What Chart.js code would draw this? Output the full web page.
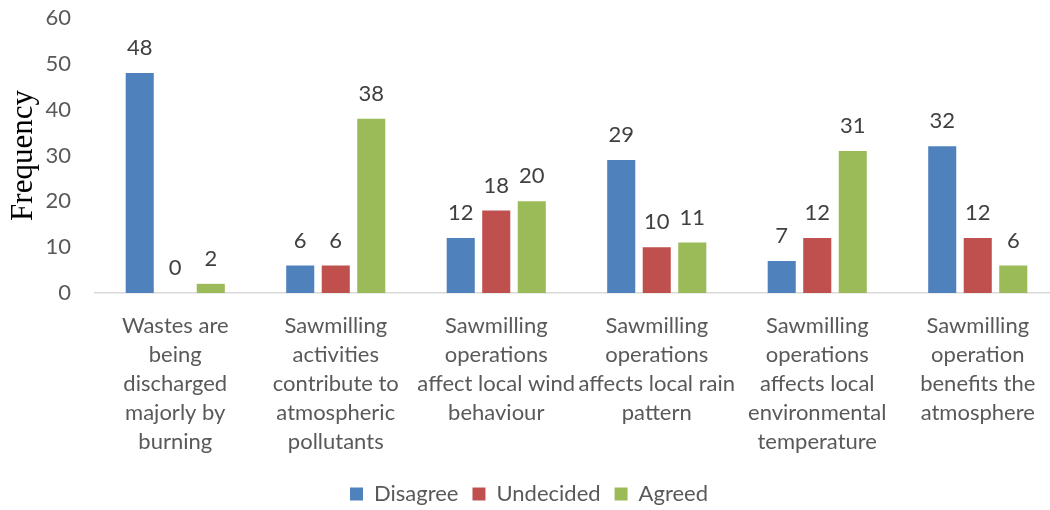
<!DOCTYPE html>
<html>
<head>
<meta charset="utf-8">
<script src="https://cdn.jsdelivr.net/npm/chart.js@4/dist/chart.umd.min.js"></script>
<style>
html,body{margin:0;padding:0;background:#fff;overflow:hidden;}
#wrap{width:1050px;height:510px;position:relative;overflow:hidden;}
canvas{display:block;}
</style>
</head>
<body>
<div id="wrap"><canvas id="c" width="1058" height="510"></canvas></div>
<script>
const categories = [
  ["Wastes are","being","discharged","majorly by","burning"],
  ["Sawmilling","activities","contribute to","atmospheric","pollutants"],
  ["Sawmilling","operations","affect local wind","behaviour"],
  ["Sawmilling","operations","affects local rain","pattern"],
  ["Sawmilling","operations","affects local","environmental","temperature"],
  ["Sawmilling","operation","benefits the","atmosphere"]
];
const disagree = [48, 6, 12, 29, 7, 32];
const undecided = [0, 6, 18, 10, 12, 12];
const agreed = [2, 38, 20, 11, 31, 6];
const seriesNames = ["Disagree", "Undecided", "Agreed"];
const yTicks = [0, 10, 20, 30, 40, 50, 60];

const FONT = "Lato, 'Open Sans', sans-serif";

const dataLabels = {
  id: 'dataLabels',
  afterDatasetsDraw(chart) {
    const ctx = chart.ctx;
    ctx.save();
    ctx.font = "22px " + FONT;
    ctx.fillStyle = "#404040";
    ctx.textAlign = "center";
    ctx.textBaseline = "alphabetic";
    chart.data.datasets.forEach((ds, i) => {
      const meta = chart.getDatasetMeta(i);
      meta.data.forEach((el, j) => {
        ctx.fillText(String(ds.data[j]), el.x, el.y - 18);
      });
    });
    ctx.restore();
  }
};

new Chart(document.getElementById('c'), {
  type: 'bar',
  data: {
    labels: categories,
    datasets: [
      {label: seriesNames[0], data: disagree, backgroundColor: '#4F81BD'},
      {label: seriesNames[1], data: undecided, backgroundColor: '#C0504D'},
      {label: seriesNames[2], data: agreed, backgroundColor: '#9BBB59'}
    ]
  },
  options: {
    responsive: false,
    animation: false,
    layout: {padding: {left: 0, right: 0, top: 18, bottom: -5}},
    datasets: {bar: {categoryPercentage: 0.664, barPercentage: 0.79}},
    plugins: {
      legend: {
        position: 'bottom',
        labels: {
          boxWidth: 13, boxHeight: 13, padding: 14,
          color: '#595959',
          font: {family: FONT, size: 22}
        }
      },
      tooltip: {enabled: false}
    },
    scales: {
      x: {
        grid: {display: false, drawTicks: false},
        border: {display: true, color: '#D9D9D9', width: 1.5},
        ticks: {
          color: '#595959', font: {family: FONT, size: 22, lineHeight: 1.32},
          maxRotation: 0, minRotation: 0, autoSkip: false, padding: 18
        },
        afterFit(s) { s.height = 176; }
      },
      y: {
        min: 0, max: 60,
        afterBuildTicks(s) { s.ticks = yTicks.map(v => ({value: v})); },
        grid: {display: false, drawTicks: false},
        border: {display: false},
        ticks: {color: '#595959', font: {family: FONT, size: 22}, padding: 24},
        title: {
          display: true, text: 'Frequency', color: '#000',
          font: {family: "'Liberation Serif', 'DejaVu Serif', serif", size: 31},
          padding: {top: 5, bottom: 0}
        },
        afterFit(s) { s.width = 95; s.paddingTop = 0; s.paddingBottom = 0; }
      }
    }
  },
  plugins: [dataLabels]
});
</script>
</body>
</html>
